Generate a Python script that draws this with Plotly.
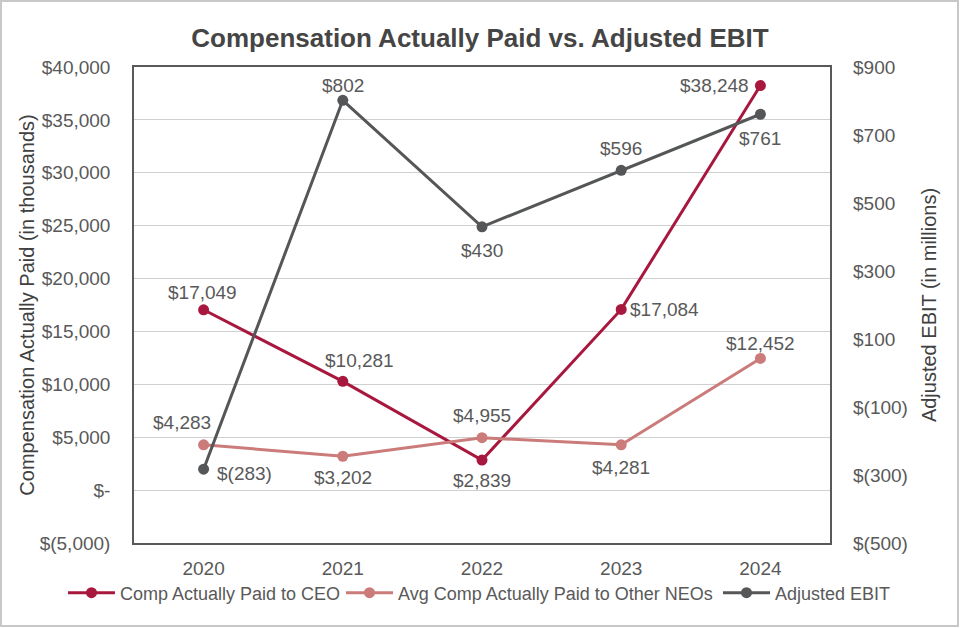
import plotly.graph_objects as go

years = ["2020", "2021", "2022", "2023", "2024"]
ceo = [17049, 10281, 2839, 17084, 38248]
neo = [4283, 3202, 4955, 4281, 12452]
ebit = [-283, 802, 430, 596, 761]

ceo_labels = ["$17,049", "$10,281", "$2,839", "$17,084", "$38,248"]
neo_labels = ["$4,283", "$3,202", "$4,955", "$4,281", "$12,452"]
ebit_labels = ["$(283)", "$802", "$430", "$596", "$761"]

left_ticks = [-5000, 0, 5000, 10000, 15000, 20000, 25000, 30000, 35000, 40000]
left_text = ["$(5,000)", "$-", "$5,000", "$10,000", "$15,000", "$20,000",
             "$25,000", "$30,000", "$35,000", "$40,000"]
right_ticks = [-500, -300, -100, 100, 300, 500, 700, 900]
right_text = ["$(500)", "$(300)", "$(100)", "$100", "$300", "$500", "$700", "$900"]

# label offsets (pixels, dx right / dy down) - styling only
ceo_off = [(-1, -17), (17, -21), (0, 20), (43, 0), (-46, 0)]
neo_off = [(-22, -22), (0, 21), (0, -22), (0, 23), (0, -15)]
ebit_off = [(41, 4), (0, -15), (0, 24), (0, -22), (0, 24)]

C_CEO = "#A8183E"
C_NEO = "#CB7B7A"
C_EBIT = "#545658"
TXT = "#595959"
FONT = "Liberation Sans, Arial, sans-serif"
FS = 19

fig = go.Figure()
fig.add_trace(go.Scatter(
    x=years, y=ceo, name="Comp Actually Paid to CEO", mode="lines+markers",
    line=dict(color=C_CEO, width=3), marker=dict(size=11, color=C_CEO),
    yaxis="y", cliponaxis=False, legend="legend"))
fig.add_trace(go.Scatter(
    x=years, y=neo, name="Avg Comp Actually Paid to Other NEOs", mode="lines+markers",
    line=dict(color=C_NEO, width=3), marker=dict(size=11, color=C_NEO),
    yaxis="y", cliponaxis=False, legend="legend2"))
fig.add_trace(go.Scatter(
    x=years, y=ebit, name="Adjusted EBIT", mode="lines+markers",
    line=dict(color=C_EBIT, width=3), marker=dict(size=11, color=C_EBIT),
    yaxis="y2", cliponaxis=False, legend="legend3"))

annotations = []
for vals, labs, offs, yref in [(ceo, ceo_labels, ceo_off, "y"),
                               (neo, neo_labels, neo_off, "y"),
                               (ebit, ebit_labels, ebit_off, "y2")]:
    for i, (v, lab, (dx, dy)) in enumerate(zip(vals, labs, offs)):
        annotations.append(dict(
            x=i, y=v, xref="x", yref=yref, text=lab, showarrow=False,
            xanchor="center", yanchor="middle", xshift=dx, yshift=-dy,
            font=dict(size=FS, color=TXT, family=FONT)))

leg_common = dict(orientation="h", y=-0.105, yanchor="middle",
                  font=dict(size=18, color=TXT), bgcolor="rgba(0,0,0,0)",
                  xanchor="left", itemwidth=47)

fig.update_layout(
    width=960, height=628,
    margin=dict(l=134, r=130, t=67, b=85, autoexpand=False),
    paper_bgcolor="white", plot_bgcolor="white",
    font=dict(family=FONT, size=FS, color=TXT),
    title=dict(text="<b>Compensation Actually Paid vs. Adjusted EBIT</b>",
               x=0.5, xanchor="center", y=0.94, yanchor="middle",
               font=dict(size=26, color="#454545", family=FONT)),
    xaxis=dict(type="category", range=[-0.5, 4.5], showgrid=False,
               showline=True, linecolor="#595959", linewidth=1.5, mirror=True,
               ticks="", ticklabelstandoff=7, tickfont=dict(size=FS, color=TXT)),
    yaxis=dict(range=[-5000, 40000], tickvals=left_ticks, ticktext=left_text,
               showgrid=True, gridcolor="#D0D0D0", gridwidth=1, zeroline=False,
               showline=True, linecolor="#595959", linewidth=1.5, mirror=True,
               ticks="", ticklabelstandoff=18, tickfont=dict(size=FS, color=TXT),
               title=dict(text="Compensation Actually Paid (in thousands)",
                          font=dict(size=20, color="#404040"), standoff=0)),
    yaxis2=dict(range=[-500, 900], tickvals=right_ticks, ticktext=right_text,
                overlaying="y", side="right", showgrid=False, zeroline=False,
                showline=False, ticks="", ticklabelstandoff=22,
                tickfont=dict(size=FS, color=TXT),
                title=dict(text="Adjusted EBIT (in millions)",
                           font=dict(size=20, color="#404040"), standoff=15)),
    legend=dict(x=(63 - 134) / 696, **leg_common),
    legend2=dict(x=(341 - 134) / 696, **leg_common),
    legend3=dict(x=(718 - 134) / 696, **leg_common),
    showlegend=True,
    annotations=annotations,
)

fig.add_shape(type="rect", xref="paper", yref="paper",
              x0=(1 - 134) / 696, x1=(958 - 134) / 696,
              y0=(543 - 626) / 476, y1=(543 - 1) / 476,
              line=dict(color="#C8C8C8", width=2), layer="below")

fig.write_html("out.html", config={"displayModeBar": False},
               post_script="document.body.style.margin='0';")
